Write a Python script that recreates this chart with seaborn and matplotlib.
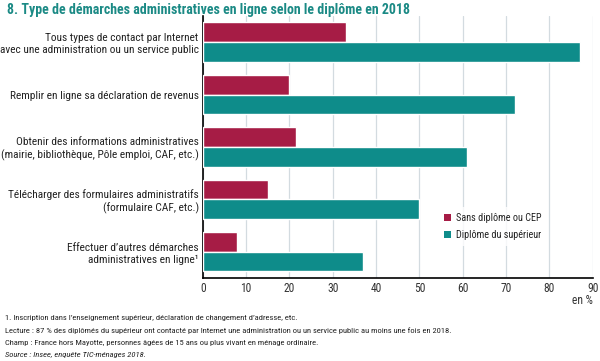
import matplotlib
matplotlib.use("Agg")
import matplotlib.pyplot as plt
from matplotlib import font_manager as fm
from matplotlib.patches import Patch
import seaborn as sns
import pandas as pd

categories = [
    "Tous types de contact par Internet\navec une administration ou un service public",
    "Remplir en ligne sa déclaration de revenus",
    "Obtenir des informations administratives\n(mairie, bibliothèque, Pôle emploi, CAF, etc.)",
    "Télécharger des formulaires administratifs\n(formulaire CAF, etc.)",
    "Effectuer d’autres démarches\nadministratives en ligne¹",
]
sans_diplome = [33, 20, 21.5, 15, 8]
diplome_sup = [87, 72, 61, 50, 37]
series_names = ["Sans diplôme ou CEP", "Diplôme du supérieur"]
xticks = [0, 10, 20, 30, 40, 50, 60, 70, 80, 90]

colors = ["#A61C45", "#0E8C8A"]

df = pd.DataFrame({
    "cat": categories * 2,
    "val": sans_diplome + diplome_sup,
    "serie": [series_names[0]] * 5 + [series_names[1]] * 5,
})

sns.set_theme(style="white")
available = {f.name for f in fm.fontManager.ttflist}
prefs = ["Liberation Sans Narrow", "Arial Narrow", "Roboto Condensed",
         "Archivo Narrow", "PT Sans Narrow", "IBM Plex Sans Condensed",
         "Fira Sans Condensed", "Open Sans Condensed", "Noto Sans Condensed"]
main = next((p for p in prefs if p in available), "DejaVu Sans")
FONT = [main, "DejaVu Sans"]
plt.rcParams["font.family"] = FONT

fig = plt.figure(figsize=(6.0, 3.61), dpi=100)
ax = fig.add_axes([0.338, 0.230, 0.650, 0.726])

sns.barplot(data=df, y="cat", x="val", hue="serie", orient="h",
            palette=colors, width=0.75, saturation=1, ax=ax, legend=False,
            zorder=3)

ax.set_xlim(0, 90)
ax.set_ylim(4.5, -0.5)
ax.set_xticks(xticks)
ax.set_xticklabels([str(t) for t in xticks], fontsize=8.3, color="#333333")
ax.tick_params(axis="x", length=0, pad=3)
ax.tick_params(axis="y", length=0, pad=3, labelsize=8.2, labelcolor="#222222")
ax.set_xlabel("")
ax.set_ylabel("")
ax.grid(axis="x", color="#D3DBE0", linewidth=0.9, zorder=0)
ax.grid(axis="y", visible=False)
for s in ["top", "right"]:
    ax.spines[s].set_visible(False)
for s in ["left", "bottom"]:
    ax.spines[s].set_color("black")
    ax.spines[s].set_linewidth(1.2)

ax.text(90, -0.062, "en %", transform=ax.get_xaxis_transform(), ha="right",
        va="top", fontsize=8.3, color="#333333")

handles = [Patch(facecolor=c, edgecolor="none") for c in colors]
leg = ax.legend(handles, series_names, loc="upper left",
                bbox_to_anchor=(0.603, 0.27), frameon=True, fontsize=7.3,
                handlelength=0.7, handleheight=0.7, handletextpad=0.5,
                labelspacing=0.7, borderaxespad=0, borderpad=0.6,
                fancybox=False)
leg.get_frame().set_facecolor("white")
leg.get_frame().set_edgecolor("none")
leg.set_zorder(5)
for t in leg.get_texts():
    t.set_color("#222222")

fig.text(0.012, 0.972, "8. Type de démarches administratives en ligne selon le diplôme en 2018",
         ha="left", va="center", fontsize=10, fontweight="bold", color="#1B8A85")

notes = [
    ("1. Inscription dans l’enseignement supérieur, déclaration de changement d’adresse, etc.", "normal"),
    ("Lecture : 87 % des diplômés du supérieur ont contacté par Internet une administration ou un service public au moins une fois en 2018.", "normal"),
    ("Champ : France hors Mayotte, personnes âgées de 15 ans ou plus vivant en ménage ordinaire.", "normal"),
    ("Source : Insee, enquête TIC-ménages 2018.", "italic"),
]
ys = [318, 331, 343, 355]
for (t, st), y in zip(notes, ys):
    fig.text(0.008, 1 - y / 361, t, ha="left", va="center", fontsize=6.1,
             style=st, color="#222222")

fig.savefig("out.png", dpi=100)
